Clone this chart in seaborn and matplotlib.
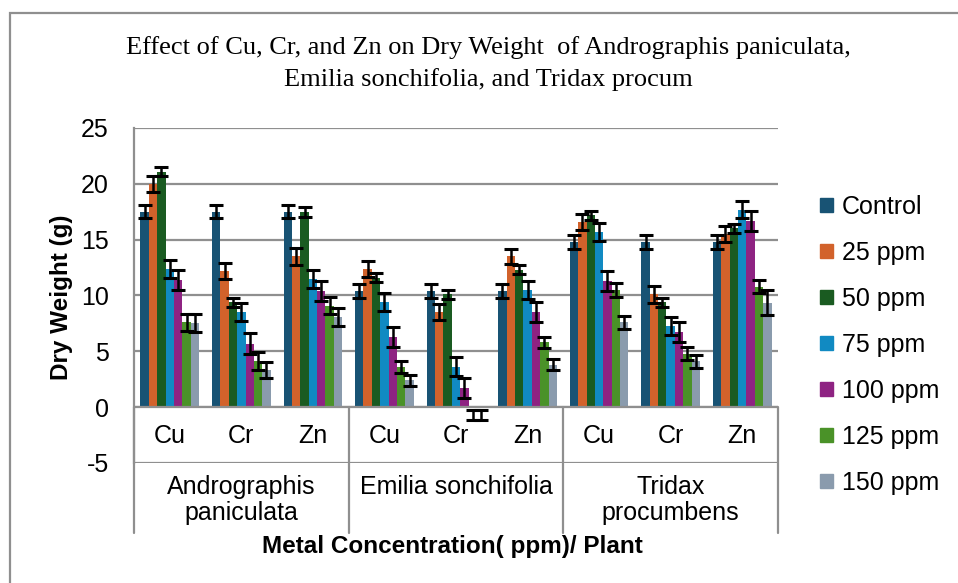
import numpy as np
import pandas as pd
import matplotlib
matplotlib.use("Agg")
import matplotlib.pyplot as plt
import matplotlib.transforms as mtransforms
from matplotlib.patches import Rectangle
import seaborn as sns

# data
plants = ["Andrographis\npaniculata", "Emilia sonchifolia", "Tridax\nprocumbens"]
metals = ["Cu", "Cr", "Zn"]
doses = ["Control", "25 ppm", "50 ppm", "75 ppm", "100 ppm", "125 ppm", "150 ppm"]

control = [17.5, 17.5, 17.5, 10.4, 10.4, 10.4, 14.8, 14.8, 14.8]
ppm25 = [20.0, 12.2, 13.5, 12.4, 8.5, 13.5, 16.6, 10.1, 15.5]
ppm50 = [21.1, 9.4, 17.5, 11.6, 10.1, 12.3, 17.2, 9.4, 16.0]
ppm75 = [12.4, 8.5, 11.5, 9.4, 3.6, 10.5, 15.7, 7.3, 17.7]
ppm100 = [11.4, 5.7, 10.4, 6.3, 1.7, 8.5, 11.3, 6.7, 16.7]
ppm125 = [7.6, 4.1, 9.1, 3.6, -0.7, 5.8, 10.5, 4.8, 10.8]
ppm150 = [7.5, 3.3, 8.1, 2.4, -0.7, 3.8, 7.6, 4.1, 9.35]

err_control = [0.6, 0.6, 0.6, 0.6, 0.6, 0.6, 0.6, 0.6, 0.6]
err25 = [0.7, 0.7, 0.75, 0.7, 0.7, 0.7, 0.7, 0.75, 0.7]
err50 = [0.4, 0.4, 0.45, 0.4, 0.4, 0.4, 0.4, 0.4, 0.4]
err75 = [0.8, 0.8, 0.8, 0.8, 0.85, 0.8, 0.8, 0.8, 0.8]
err100 = [0.9, 0.9, 0.9, 0.9, 0.9, 0.9, 0.9, 0.9, 0.9]
err125 = [0.75, 0.8, 0.8, 0.5, 0.45, 0.5, 0.65, 0.6, 0.6]
err150 = [0.8, 0.7, 0.8, 0.5, 0.45, 0.5, 0.6, 0.55, 1.1]

colors = ["#185374", "#D2622B", "#1A5B21", "#118AC2", "#8E2382", "#4A9228", "#8A9BAD"]

values = [control, ppm25, ppm50, ppm75, ppm100, ppm125, ppm150]
errors = [err_control, err25, err50, err75, err100, err125, err150]

cats = [p.split("\n")[0] + "-" + m for p in plants for m in metals]
rows = []
for dose, vals in zip(doses, values):
    for c, v in zip(cats, vals):
        rows.append({"cat": c, "dose": dose, "value": v})
df = pd.DataFrame(rows)

sns.set_theme(style="white")
plt.rcParams["font.family"] = ["Liberation Sans", "DejaVu Sans"]
plt.rcParams["axes.unicode_minus"] = False
plt.rcParams["text.color"] = "black"
plt.rcParams["ytick.labelcolor"] = "black"

grid_c = "#8f8f8f"

fig = plt.figure(figsize=(9.58, 5.83), dpi=100)
ax = fig.add_axes([134 / 958, 1 - 463 / 583, (778 - 134) / 958, (463 - 128) / 583])

sns.barplot(data=df, x="cat", y="value", hue="dose", order=cats, hue_order=doses,
            palette=colors, width=0.82, gap=0, errorbar=None, saturation=1,
            linewidth=0, ax=ax, zorder=2)

# white label box over the region below zero
ax.axhspan(-5, 0, color="white", zorder=2.5)

# error bars placed on the drawn bars
for cont, errs in zip(ax.containers, errors):
    for bar, e in zip(cont, errs):
        xc = bar.get_x() + bar.get_width() / 2
        yt = bar.get_y() + bar.get_height()
        ax.errorbar(xc, yt, yerr=e, color="black", capsize=5, capthick=2.2,
                    elinewidth=1.8, zorder=4)

ax.set_ylim(-5, 25)
ax.set_xlim(-0.5, 8.5)
ax.set_yticks([-5, 0, 5, 10, 15, 20, 25])
ax.yaxis.grid(True, color=grid_c, linewidth=1.6)
ax.set_axisbelow(True)
ax.axhline(0, color=grid_c, linewidth=1.6, zorder=3)
ax.axhline(-5, color=grid_c, linewidth=1.6, zorder=3)
for s in ["top", "right", "bottom"]:
    ax.spines[s].set_visible(False)
ax.spines["left"].set_color(grid_c)
ax.spines["left"].set_linewidth(1.6)
ax.tick_params(axis="y", left=False, length=0, labelsize=18, pad=18, labelcolor="black")
ax.tick_params(axis="x", bottom=False, labelbottom=False)
ax.set_xlabel("")
ax.set_ylabel("")

# two-level category labels
xt = ax.get_xticks()
trans = mtransforms.blended_transform_factory(ax.transData, ax.transAxes)
for x, lab in zip(xt, metals * 3):
    ax.text(x, -2.6, lab, ha="center", va="center", fontsize=18, color="black", zorder=5)
for i, p in enumerate(plants):
    ax.text(np.mean(xt[i * 3:i * 3 + 3]), -0.035, p, transform=trans, ha="center",
            va="top", fontsize=18, color="black", linespacing=1.12)
for xb in [-0.5, 2.5, 5.5, 8.5]:
    ax.plot([xb, xb], [1 / 6, -0.21], transform=trans, color=grid_c,
            linewidth=1.6, clip_on=False, zorder=3)

ax.legend_.remove()
handles = [Rectangle((0, 0), 1, 1, color=c) for c in colors]
fig.legend(handles, doses, loc="center left", bbox_to_anchor=(797 / 958, 1 - 345 / 583),
           frameon=False, fontsize=18, handlelength=0.52, handleheight=0.52,
           handletextpad=0.36, labelspacing=0.88, labelcolor="black")

fig.text(488 / 958, 1 - 48 / 583, "Effect of Cu, Cr, and Zn on Dry Weight  of Andrographis paniculata,",
         ha="center", va="center", fontsize=19, family="Liberation Serif", color="black")
fig.text(488 / 958, 1 - 80 / 583, "Emilia sonchifolia, and Tridax procum",
         ha="center", va="center", fontsize=19, family="Liberation Serif", color="black")
fig.text(62 / 958, 1 - 297 / 583, "Dry Weight (g)", rotation=90, ha="center",
         va="center", fontsize=17.5, fontweight="bold", color="black")
fig.text(452 / 958, 1 - 546 / 583, "Metal Concentration( ppm)/ Plant", ha="center",
         va="center", fontsize=17.5, fontweight="bold", color="black")

# outer chart border
fig.patches.append(Rectangle((10 / 958, -0.1), 1.2, 1.1 - 13 / 583, transform=fig.transFigure,
                             fill=False, edgecolor=grid_c, linewidth=1.6))

fig.savefig("out.png", dpi=100)
